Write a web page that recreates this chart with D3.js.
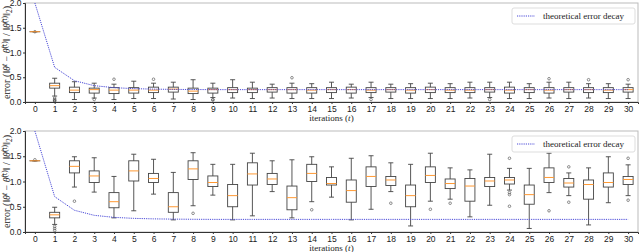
<!DOCTYPE html>
<html>
<head>
<meta charset="utf-8">
<script src="https://cdn.jsdelivr.net/npm/d3@7"></script>
<style>
  body { margin: 0; background: #fff; }
  svg { display: block; font-family: "Liberation Serif", "DejaVu Serif", serif; }
  .tick text { font-size: 8.5px; fill: #222; }
  .legend { font-size: 9px; fill: #222; }
</style>
</head>
<body>
<div id="chart"></div>
<script>
// iterations on the x axis
const iters = d3.range(0, 31)
const yTicks = [0, 0.5, 1.0, 1.5, 2.0]

// theoretical error decay (same in both panels)
const theory = [2.0, 0.70, 0.43, 0.33, 0.29, 0.27, 0.26, 0.255, 0.252, 0.25, 0.25,
  0.25, 0.25, 0.25, 0.25, 0.25, 0.25, 0.25, 0.25, 0.25, 0.25,
  0.25, 0.25, 0.25, 0.25, 0.25, 0.25, 0.25, 0.25, 0.25, 0.25]

// top panel box stats
const topLo  = [1.42, 0.12, 0.05, 0.08, 0.05, 0.07, 0.07, 0.06, 0.05, 0.09, 0.08,
  0.07, 0.08, 0.07, 0.07, 0.07, 0.08, 0.09, 0.07, 0.07, 0.07,
  0.07, 0.08, 0.09, 0.07, 0.07, 0.08, 0.07, 0.08, 0.07, 0.07]
const topQ1  = [1.42, 0.28, 0.19, 0.18, 0.17, 0.18, 0.19, 0.20, 0.17, 0.18, 0.19,
  0.19, 0.20, 0.18, 0.18, 0.19, 0.18, 0.19, 0.20, 0.18, 0.19,
  0.19, 0.19, 0.20, 0.18, 0.19, 0.18, 0.20, 0.19, 0.19, 0.20]
const topMed = [1.42, 0.33, 0.24, 0.25, 0.24, 0.24, 0.24, 0.26, 0.22, 0.25, 0.25,
  0.25, 0.25, 0.25, 0.24, 0.25, 0.25, 0.24, 0.25, 0.24, 0.25,
  0.24, 0.24, 0.25, 0.24, 0.25, 0.24, 0.25, 0.25, 0.24, 0.25]
const topQ3  = [1.42, 0.38, 0.30, 0.28, 0.29, 0.29, 0.30, 0.30, 0.28, 0.28, 0.29,
  0.28, 0.29, 0.29, 0.29, 0.29, 0.30, 0.29, 0.29, 0.29, 0.30,
  0.29, 0.29, 0.29, 0.30, 0.29, 0.29, 0.29, 0.29, 0.29, 0.29]
const topHi  = [1.42, 0.48, 0.41, 0.38, 0.36, 0.42, 0.38, 0.40, 0.45, 0.38, 0.45,
  0.40, 0.36, 0.38, 0.37, 0.40, 0.36, 0.40, 0.36, 0.37, 0.38,
  0.37, 0.40, 0.40, 0.40, 0.37, 0.40, 0.40, 0.37, 0.37, 0.36]
const topFliers = [[1.42], [0.08, 0.05, 0.03, 0.02], [], [0.05], [0.46], [], [0.46], [], [], [0.05, 0.04], [],
  [], [], [0.49], [], [], [], [0.05], [], [], [],
  [], [], [0.05], [], [], [0.47], [], [0.45], [], [0.45]]

// bottom panel box stats
const botLo  = [1.41, 0.15, 0.89, 0.79, 0.28, 0.42, 0.75, 0.24, 0.52, 0.73, 0.24,
  0.32, 0.80, 0.28, 0.60, 0.69, 0.24, 0.45, 0.80, 0.12, 0.61,
  0.65, 0.30, 0.53, 0.83, 0.07, 0.78, 0.72, 0.14, 0.58, 0.72]
const botQ1  = [1.41, 0.28, 1.17, 0.98, 0.48, 1.01, 0.98, 0.39, 1.04, 0.90, 0.50,
  0.93, 0.94, 0.44, 1.00, 0.93, 0.59, 0.90, 0.92, 0.50, 0.98,
  0.86, 0.61, 0.90, 0.95, 0.55, 0.98, 0.89, 0.65, 0.89, 0.94]
const botMed = [1.41, 0.34, 1.30, 1.11, 0.60, 1.21, 1.06, 0.50, 1.25, 0.98, 0.72,
  1.15, 1.05, 0.68, 1.16, 0.96, 0.82, 1.10, 1.03, 0.72, 1.12,
  0.96, 0.91, 1.01, 1.03, 0.74, 1.08, 0.97, 0.94, 0.98, 1.04]
const botQ3  = [1.41, 0.39, 1.41, 1.21, 0.78, 1.41, 1.16, 0.78, 1.41, 1.11, 0.94,
  1.37, 1.16, 0.91, 1.34, 1.08, 1.03, 1.29, 1.10, 0.93, 1.29,
  1.05, 1.06, 1.08, 1.08, 0.93, 1.27, 1.06, 1.03, 1.17, 1.10]
const botHi  = [1.41, 0.49, 1.49, 1.47, 1.10, 1.54, 1.44, 1.18, 1.57, 1.34, 1.34,
  1.56, 1.41, 1.43, 1.49, 1.29, 1.46, 1.51, 1.37, 1.34, 1.56,
  1.27, 1.23, 1.54, 1.26, 1.26, 1.56, 1.17, 1.27, 1.49, 1.33]
const botFliers = [[1.43], [0.11, 0.07, 0.03], [0.61], [], [], [], [], [], [0.37], [], [],
  [], [], [], [0.44], [], [], [], [0.57], [], [0.45],
  [0.57], [], [], [1.46, 0.78, 0.74, 0.51], [], [0.42], [1.29, 0.59], [], [], [1.46, 0.63]]

const W = 640, H = 252
const left = 25, right = 638
const lineColor = '#4b4bd8'

const svg = d3.select('#chart').append('svg')
  .attr('width', W)
  .attr('height', H)

const x = d3.scaleLinear().domain([-0.5, 30.5]).range([left, right])

function drawPanel(top, bottom, lo, q1, med, q3, hi, fliers, id) {
  const y = d3.scaleLinear().domain([0, 2]).range([bottom, top])
  const g = svg.append('g')

  g.append('clipPath').attr('id', id)
    .append('rect')
    .attr('x', left).attr('y', top)
    .attr('width', right - left).attr('height', bottom - top)

  // frame
  g.append('rect')
    .attr('x', left).attr('y', top)
    .attr('width', right - left).attr('height', bottom - top)
    .attr('fill', 'none')
    .attr('stroke', '#bbb')
    .attr('stroke-width', 1)

  const bw = 10, cw = 5
  const boxes = g.append('g').attr('clip-path', `url(#${id})`)
    .selectAll('g.box').data(iters).join('g').attr('class', 'box')

  // whiskers
  boxes.append('line')
    .attr('x1', d => x(d)).attr('x2', d => x(d))
    .attr('y1', d => y(q3[d])).attr('y2', d => y(hi[d]))
    .attr('stroke', '#444').attr('stroke-width', 0.9)
  boxes.append('line')
    .attr('x1', d => x(d)).attr('x2', d => x(d))
    .attr('y1', d => y(q1[d])).attr('y2', d => y(lo[d]))
    .attr('stroke', '#444').attr('stroke-width', 0.9)
  // caps
  boxes.append('line')
    .attr('x1', d => x(d) - cw / 2).attr('x2', d => x(d) + cw / 2)
    .attr('y1', d => y(hi[d])).attr('y2', d => y(hi[d]))
    .attr('stroke', '#444').attr('stroke-width', 0.9)
  boxes.append('line')
    .attr('x1', d => x(d) - cw / 2).attr('x2', d => x(d) + cw / 2)
    .attr('y1', d => y(lo[d])).attr('y2', d => y(lo[d]))
    .attr('stroke', '#444').attr('stroke-width', 0.9)
  // box
  boxes.append('rect')
    .attr('x', d => x(d) - bw / 2)
    .attr('y', d => y(q3[d]))
    .attr('width', bw)
    .attr('height', d => Math.max(0.01, y(q1[d]) - y(q3[d])))
    .attr('fill', 'none')
    .attr('stroke', '#444').attr('stroke-width', 0.9)
  // fliers
  boxes.selectAll('circle').data(d => fliers[d].map(v => [d, v])).join('circle')
    .attr('cx', d => x(d[0])).attr('cy', d => y(d[1]))
    .attr('r', 1.3)
    .attr('fill', 'none')
    .attr('stroke', '#444').attr('stroke-width', 0.6)

  // theoretical decay
  const line = d3.line().x((d, i) => x(iters[i])).y(d => y(d))
  g.append('path')
    .datum(theory)
    .attr('clip-path', `url(#${id})`)
    .attr('d', line)
    .attr('fill', 'none')
    .attr('stroke', lineColor)
    .attr('stroke-width', 1)
    .attr('stroke-dasharray', '1.2,1')

  // medians on top
  boxes.append('line')
    .attr('x1', d => x(d) - bw / 2).attr('x2', d => x(d) + bw / 2)
    .attr('y1', d => y(med[d])).attr('y2', d => y(med[d]))
    .attr('stroke', '#ff9933').attr('stroke-width', 1)

  // axes
  const ax = g.append('g')
    .attr('transform', `translate(0,${bottom})`)
    .call(d3.axisBottom(x).tickValues(iters).tickFormat(d3.format('d')).tickSize(2).tickPadding(1.5))
  const ay = g.append('g')
    .attr('transform', `translate(${left},0)`)
    .call(d3.axisLeft(y).tickValues(yTicks).tickFormat(d3.format('.1f')).tickSize(2).tickPadding(1.5))
  ax.select('.domain').attr('stroke', '#333')
  ay.select('.domain').attr('stroke', '#333')
  ax.selectAll('.tick line').attr('stroke', '#333')
  ay.selectAll('.tick line').attr('stroke', '#333')

  // x label
  const xl = g.append('text')
    .attr('x', (left + right) / 2)
    .attr('y', bottom + 19)
    .attr('text-anchor', 'middle')
    .attr('font-size', 9)
    .attr('fill', '#222')
  xl.append('tspan').text('iterations (')
  xl.append('tspan').attr('font-style', 'italic').text('t')
  xl.append('tspan').text(')')

  // y label
  const yl = g.append('text')
    .attr('transform', `translate(10,${(top + bottom) / 2}) rotate(-90)`)
    .attr('text-anchor', 'middle')
    .attr('font-size', 10)
    .attr('fill', '#222')
  yl.append('tspan').text('error (\u2016')
  yl.append('tspan').attr('font-style', 'italic').text('\u03b8')
  yl.append('tspan').attr('font-size', 7.5).attr('dy', -3.5).attr('font-style', 'italic').text('t')
  yl.append('tspan').attr('dy', 3.5).text(' \u2212 ')
  yl.append('tspan').attr('font-style', 'italic').text('\u03b8\u0302')
  yl.append('tspan').attr('font-size', 7.5).attr('dy', -3.5).text('(t)')
  yl.append('tspan').attr('dy', 3.5).text('\u2016 / \u2016')
  yl.append('tspan').attr('font-style', 'italic').text('\u03b8\u0302')
  yl.append('tspan').attr('font-size', 7.5).attr('dy', -3.5).text('(t)')
  yl.append('tspan').attr('dy', 3.5).text('\u2016')
  yl.append('tspan').attr('font-size', 7.5).attr('dy', 2).text('2')
  yl.append('tspan').attr('dy', -2).text(')')

  // legend
  const lg = g.append('g').attr('transform', `translate(512,${top + 5})`)
  lg.append('rect')
    .attr('width', 123).attr('height', 16)
    .attr('rx', 2)
    .attr('fill', '#fff').attr('fill-opacity', 0.8)
    .attr('stroke', '#ddd')
  lg.append('line')
    .attr('x1', 5).attr('x2', 23).attr('y1', 8).attr('y2', 8)
    .attr('stroke', lineColor).attr('stroke-width', 1)
    .attr('stroke-dasharray', '1.2,1')
  lg.append('text')
    .attr('class', 'legend')
    .attr('x', 31).attr('y', 11)
    .text('theoretical error decay')
}

drawPanel(3, 102, topLo, topQ1, topMed, topQ3, topHi, topFliers, 'clipTop')
drawPanel(131, 232, botLo, botQ1, botMed, botQ3, botHi, botFliers, 'clipBot')
</script>
</body>
</html>
